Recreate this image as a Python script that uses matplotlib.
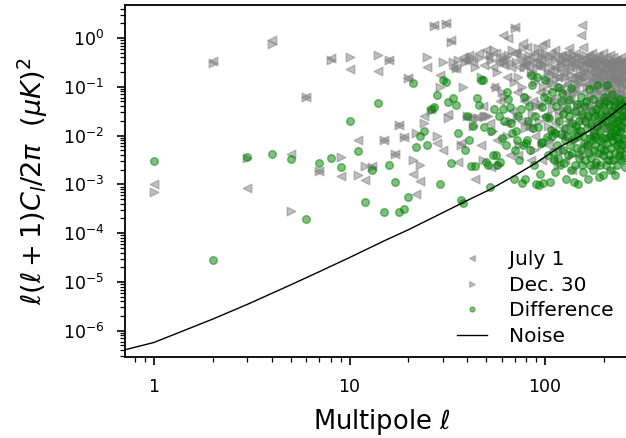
import numpy as np
import matplotlib
matplotlib.use("Agg")
import matplotlib.pyplot as plt
from matplotlib.ticker import FuncFormatter, LogLocator

# log10 of l(l+1)C_l/2pi for l = 1..260 ------------------------------------
july_log = [
    -3.0, -0.48, -3.08, -0.05, -2.38, -1.2, -2.72, -0.42, -2.83, -0.64,
    -2.09, -2.92, -2.62, -0.67, -2.09, -0.45, -2.38, -1.79, -2.03, -0.82,
    -2.78, -3.19, -2.93, -1.6, -0.6, -1.45, 0.27, -2.16, -0.76, -2.3,
    0.3, -1.55, -0.04, -0.62, -0.62, -2.55, -2.15, -0.4, -0.45, -1.62,
    -0.35, -1.65, -0.5, -2.9, -1.62, -0.3, -2.2, -1.4, -0.55, -0.25,
    -0.4, -1.75, -2.65, -0.6, -1.0, -0.3, -2.1, -0.5, -1.3, -0.45,
    0.06, -0.55, -1.75, -0.8, 0.0, -2.4, -0.6, -1.5, -0.3, 0.23,
    -0.3, -1.1, -2.4, -0.6, -1.7, -0.45, -0.1, -1.3, -0.55, -1.75,
    -0.18, -0.6, -1.85, -0.4, -2.5, -0.75, -1.3, -0.3, -2.0, -0.55,
    -0.45, -1.4, -0.3, -1.1, -0.6, -2.5, -0.15, -0.8, -1.6, -0.1,
    -0.9, -1.6, -0.4, -2.2, -0.7, -1.3, -0.3, -1.9, -1.0, -2.5,
    -0.6, -1.75, -0.25, -1.2, -2.3, -0.8, -1.5, -0.45, -1.05, -2.0,
    -0.35, -1.3, -1.85, -0.7, -0.5, -2.5, -1.1, -1.45, -0.3, -0.95,
    -1.7, -0.6, -0.2, -1.25, -2.1, -0.45, -0.85, -2.7, -1.0, -1.5,
    -0.5, -1.9, -1.05, -0.3, -1.6, -0.75, -2.4, -0.9, -1.35, -0.55,
    -0.8, 0.06, -1.7, -0.45, 0.27, -1.1, -0.18, -2.2, -0.7, -1.4,
    -1.55, -0.5, -0.95, -2.3, -0.4, -1.25, -1.8, -0.35, -0.8, -2.0,
    -0.55, -1.4, -1.0, -0.3, -1.9, -0.7, -2.6, -1.15, -0.45, -1.6,
    -0.65, -1.05, -2.1, -0.4, -0.85, -1.5, -0.35, -1.3, -2.4, -0.6,
    -0.9, -1.7, -0.45, -1.1, -0.75, -2.2, -0.5, -1.4, -0.3, -1.0,
    -1.8, -0.6, -0.95, -2.5, -0.4, -1.2, -1.55, -0.7, -0.9, -2.0,
    -0.5, -1.25, -0.8, -1.9, -0.35, -1.05, -2.7, -0.65, -1.45, -0.85,
    -0.6, -1.6, -0.4, -1.15, -0.8, -2.2, -0.5, -1.0, -1.75, -0.45,
    -1.25, -0.7, -1.95, -0.45, -0.9, -1.45, -0.6, -2.4, -0.8, -1.15,
    -0.5, -1.8, -1.0, -0.75, -1.5, -0.4, -1.2, -2.3, -0.65, -0.95,
    -1.35, -0.6, -0.85, -2.0, -0.45, -1.1, -0.7, -1.6, -0.5, -1.0,
]
dec_log = [
    -3.15, -0.52, -2.46, -0.12, -3.55, -1.2, -2.72, -0.45, -2.44, -0.40,
    -2.81, -2.62, -2.65, -0.35, -2.09, -0.45, -2.38, -1.79, -2.03, -0.82,
    -2.5, -1.95, -2.6, -1.75, -0.4, -1.5, 0.25, -2.0, -1.0, -0.5,
    0.28, -1.65, -0.08, -0.5, -0.62, -0.45, -2.2, -1.0, -0.5, -1.6,
    -0.45, -0.38, -1.8, -0.6, -1.65, -0.42, -0.8, -2.5, -1.6, -1.6,
    -1.6, -0.35, -0.45, -1.9, -0.25, -1.0, -0.7, -2.6, -0.4, -1.1,
    -0.5, -1.2, -0.4, -2.0, -0.35, -0.5, -1.7, -0.25, -0.9, 0.2,
    -0.5, -1.6, -0.8, -2.2, -0.35, -1.0, -0.2, -0.6, -1.85, -0.5,
    -1.2, -0.5, -0.35, -1.8, -0.7, -1.55, -0.45, -2.3, -0.9, -1.4,
    -0.6, -0.2, -1.7, -0.5, -1.35, -0.4, -2.2, -1.0, -0.55, -0.3,
    -0.5, -1.1, -1.8, -0.7, -0.4, -2.1, -0.9, -0.6, -1.45, -0.75,
    -1.3, -0.45, -1.9, -0.85, -0.65, -2.6, -0.35, -1.6, -0.8, -0.55,
    -1.0, -0.6, -0.45, -2.3, -1.45, -0.8, -0.4, -1.95, -1.15, -0.7,
    -0.5, -1.3, -0.9, -0.4, -0.75, -1.75, -2.4, -0.6, -0.35, -1.1,
    -1.15, -0.5, -2.1, -0.8, -0.6, -1.4, -0.95, -0.4, -1.85, -0.8,
    -0.65, -1.35, -0.4, -1.95, -0.85, -0.55, -1.5, -0.7, -2.4, -0.5,
    -0.8, -0.35, -1.65, -1.0, -0.7, -2.2, -0.55, -0.9, -1.4, -0.5,
    -1.2, -0.6, -0.45, -1.75, -0.9, -0.5, -1.05, -2.0, -0.75, -0.6,
    -1.5, -0.55, -0.8, -2.6, -1.1, -0.5, -1.8, -0.7, -0.95, -1.3,
    -0.5, -0.85, -1.4, -0.65, -1.9, -0.9, -1.2, -0.45, -1.7, -0.75,
    -0.7, -1.3, -0.55, -1.0, -1.6, -0.6, -0.85, -2.3, -0.5, -1.1,
    -1.5, -0.75, -0.5, -1.15, -2.0, -0.65, -0.9, -1.3, -0.55, -1.75,
    -1.05, -0.55, -1.8, -0.8, -1.25, -0.5, -2.5, -0.9, -0.7, -1.4,
    -0.65, -1.7, -0.85, -1.1, -0.5, -0.8, -2.1, -0.6, -1.3, -0.9,
    -1.35, -0.6, -0.5, -1.9, -0.85, -1.2, -0.55, -1.0, -1.6, -0.7,
    -0.8, -1.15, -1.7, -0.6, -0.9, -2.4, -0.7, -0.5, -1.25, -0.85,
]
diff_log = [
    -2.52, -4.56, -2.44, -2.37, -2.49, -3.72, -2.56, -2.45, -2.64, -1.70,
    -2.31, -3.36, -2.70, -1.33, -3.57, -2.6, -2.95, -3.57, -3.50, -3.26,
    -0.92, -2.23, -2.0, -1.9, -2.2, -1.45, -1.42, -1.17, -3.0, -0.86,
    -0.9, -1.31, -2.57, -1.23, -1.38, -1.95, -3.33, -3.38, -2.3, -1.6,
    -2.1, -2.62, -1.8, -2.62, -1.23, -1.38, -0.86, -0.86, -1.82, -2.55,
    -2.6, -3.05, -1.9, -2.4, -1.45, -2.4, -2.6, -1.6, -2.55, -2.05,
    -1.45, -1.7, -2.2, -1.1, -1.25, -1.41, -1.75, -1.95, -2.9, -2.3,
    -1.9, -2.1, -1.6, -2.5, -1.45, -2.98, -2.2, -1.2, -2.9, -2.15,
    -2.1, -1.7, -1.4, -2.3, -0.76, -0.97, -1.85, -2.6, -1.6, -3.0,
    -0.8, -1.82, -3.02, -2.78, -2.16, -1.41, -2.13, -2.98, -1.2, -0.86,
    -1.62, -2.03, -1.27, -2.4, -1.65, -2.95, -1.89, -2.0, -1.1, -2.33,
    -2.5, -1.95, -2.75, -1.4, -2.2, -1.0, -2.45, -1.7, -2.6, -1.3,
    -1.96, -1.13, -2.3, -1.55, -2.57, -1.85, -2.1, -2.9, -1.45, -2.0,
    -2.4, -1.6, -1.27, -2.2, -1.03, -2.7, -1.75, -2.35, -1.89, -2.95,
    -2.05, -1.5, -2.6, -1.8, -2.25, -1.35, -3.0, -2.0, -1.7, -2.45,
    -1.9, -2.3, -1.2, -2.6, -1.55, -2.0, -2.75, -1.4, -2.15, -1.7,
    -2.5, -1.3, -1.85, -2.2, -2.9, -1.6, -2.35, -1.05, -2.05, -2.6,
    -1.75, -2.45, -1.5, -2.1, -1.25, -2.7, -1.95, -2.3, -1.6, -2.0,
    -2.2, -1.45, -2.55, -0.97, -1.8, -2.35, -1.65, -2.85, -1.35, -2.1,
    -1.9, -2.6, -1.55, -2.25, -1.75, -2.05, -2.8, -1.4, -2.4, -1.2,
    -2.3, -1.7, -2.05, -1.3, -2.6, -1.55, -2.15, -0.97, -1.85, -2.5,
    -1.6, -2.4, -1.35, -2.0, -1.8, -2.7, -1.5, -2.25, -1.95, -1.15,
    -2.1, -1.65, -2.5, -1.4, -2.0, -1.75, -2.35, -1.3, -2.8, -1.9,
    -1.55, -2.2, -1.85, -2.6, -1.45, -2.05, -1.7, -2.4, -1.25, -2.15,
    -1.9, -1.4, -2.3, -1.65, -2.5, -1.8, -1.35, -2.2, -1.6, -2.05,
    -2.45, -1.7, -1.5, -2.1, -1.3, -2.65, -1.85, -1.55, -2.25, -1.4,
]

# noise curve (read at a few multipoles)
noise_ell = [0.71, 1, 2, 3, 5, 7, 10, 15, 20, 30, 40, 52, 70, 90, 119, 150, 176, 210, 260]
noise_log = [-6.39, -6.24, -5.76, -5.46, -5.06, -4.79, -4.5, -4.16, -3.93, -3.58,
             -3.33, -3.11, -2.82, -2.56, -2.23, -2.02, -1.85, -1.63, -1.34]

ell = np.arange(1, len(july_log) + 1)
july = 10.0 ** np.array(july_log)
dec = 10.0 ** np.array(dec_log)
diff = 10.0 ** np.array(diff_log)
noise = 10.0 ** np.array(noise_log)

# Figure ---------------------------------------------------------------
fig = plt.figure(figsize=(6.26, 4.38), dpi=100)
ax = fig.add_axes([0.1997, 0.185, 0.82, 0.8037])

ax.scatter(ell, july, marker='<', s=38, color='gray', alpha=0.5, label="July 1")
ax.scatter(ell, dec, marker='>', s=38, color='gray', alpha=0.5, label="Dec. 30")
ax.scatter(ell, diff, marker='o', s=30, color='green', alpha=0.5, label="Difference")
ax.plot(noise_ell, noise, color='black', linewidth=1.0, label="Noise")

ax.set_xscale('log')
ax.set_yscale('log')
ax.set_xlim(0.7106, 300)
ax.set_ylim(2.9e-7, 4.75)

ax.xaxis.set_major_formatter(FuncFormatter(lambda v, p: f"{v:g}"))
ax.yaxis.set_major_locator(LogLocator(base=10, numticks=20))
ax.yaxis.set_minor_locator(LogLocator(base=10, subs=np.arange(2, 10), numticks=50))

for s in ax.spines.values():
    s.set_linewidth(1.3)
ax.tick_params(which='major', length=5.8, width=1.2, labelsize=12.5, pad=9)
ax.tick_params(which='minor', length=3.4, width=0.9)

ax.set_xlabel(r"Multipole $\ell$", fontsize=18.5, labelpad=8)
ax.set_ylabel(r"$\ell(\ell+1)C_l/2\pi\ \ (\mu K)^2$", fontsize=19.5, labelpad=9)

ax.legend(loc='lower right', bbox_to_anchor=(628 / 626, 1 - 360 / 438),
          bbox_transform=fig.transFigure, frameon=False, fontsize=14.5,
          markerscale=0.65, scatteryoffsets=[0.5], labelspacing=0.33,
          handlelength=1.5, handletextpad=1.1, borderpad=0.2)

fig.savefig("out.png", dpi=100)
